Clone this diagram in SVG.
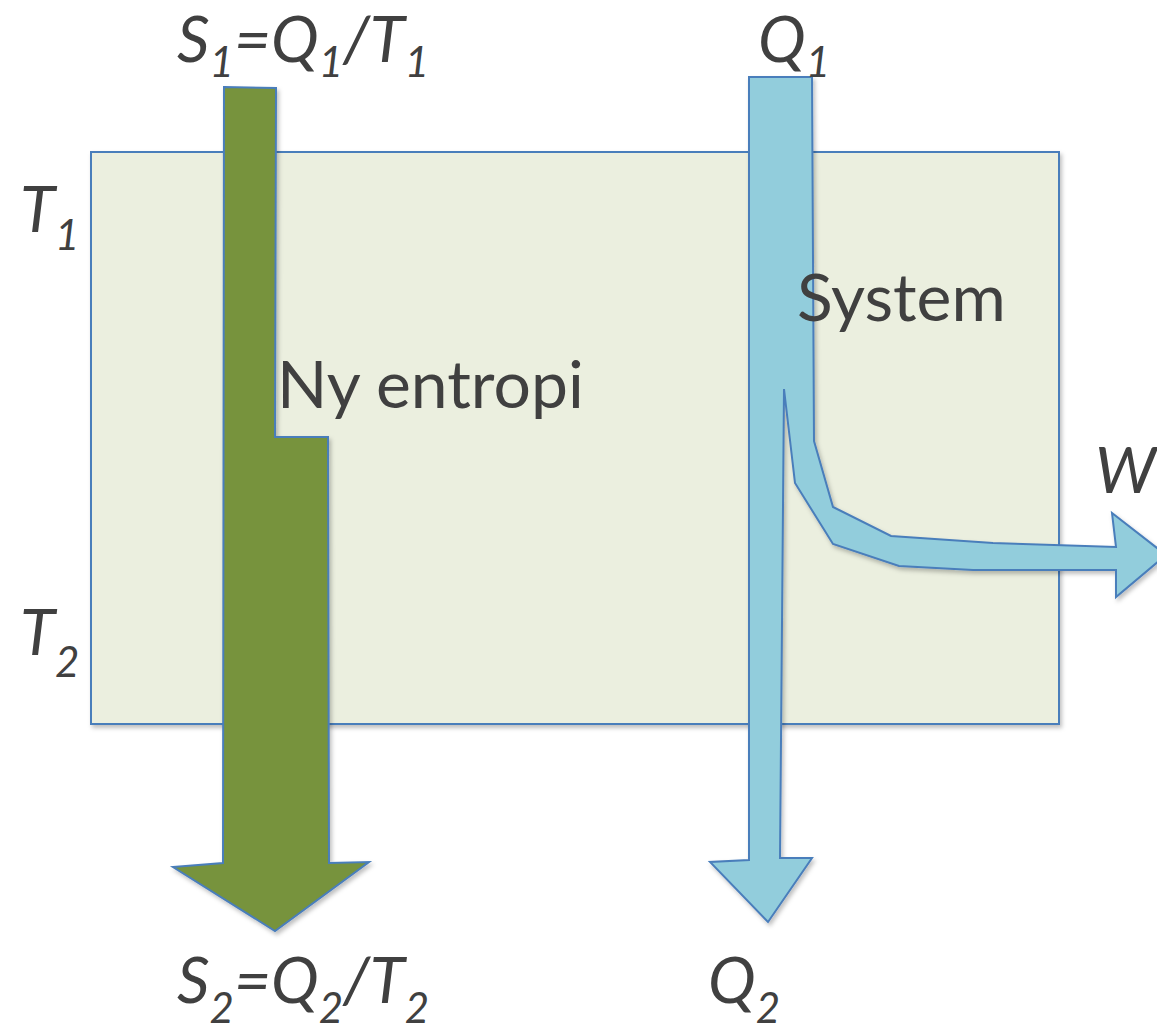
<svg xmlns="http://www.w3.org/2000/svg" width="1157" height="1033" viewBox="0 0 1157 1033">
<defs>
<style>
.lbl{font-family:Lato,"Open Sans","Liberation Sans",sans-serif;fill:#404040;}
.it{font-style:italic;font-size:64px;}
.sub{font-size:42px;}
.plain{font-size:66px;}
.shape{stroke:#4A7EBB;stroke-width:2;stroke-linejoin:miter;}
</style>
<filter id="sh" x="-10%" y="-10%" width="130%" height="130%">
<feDropShadow dx="2" dy="3" stdDeviation="2" flood-color="#000" flood-opacity="0.25"/>
</filter>
</defs>
<rect width="1157" height="1033" fill="#fff"/>
<g id="system">
<rect x="91" y="152" width="968" height="572" fill="#EBEFDF" class="shape" filter="url(#sh)"/>
</g>
<g id="connectors">
<g id="entropy-arrow">
<polygon class="shape" fill="#77933C" filter="url(#sh)" points="224,87 276,88 275,437 328,437 329,863 369,862 275,931 173,867 223,863"/>
</g>
<g id="heat-arrow">
<polygon class="shape" fill="#92CDDC" filter="url(#sh)" points="749,77 812,77 814,441 833,507 891,536 993,543 1116,547 1112,513 1166,555 1116,597 1116,570 973,570 899,566 833,544 795,483 784,389 780,858 812,858 768,922 710,862 749,860"/>
</g>
</g>
<g id="system-label">
<text class="lbl plain" x="797" y="321">System</text>
</g>
<g id="ny-entropi">
<text class="lbl plain" x="277" y="408">Ny entropi</text>
</g>
<g id="label-s1">
<text class="lbl it" x="177" y="62">S<tspan class="sub" dy="15">1</tspan><tspan dy="-15">=Q</tspan><tspan class="sub" dy="15">1</tspan><tspan dy="-15">/T</tspan><tspan class="sub" dy="15">1</tspan></text>
</g>
<g id="label-q1">
<text class="lbl it" x="758" y="62">Q<tspan class="sub" dy="15">1</tspan></text>
</g>
<g id="label-t1">
<text class="lbl it" x="20" y="232">T<tspan class="sub" dy="18">1</tspan></text>
</g>
<g id="label-t2">
<text class="lbl it" x="20" y="655">T<tspan class="sub" dy="22">2</tspan></text>
</g>
<g id="label-s2">
<text class="lbl it" x="177" y="1003">S<tspan class="sub" dy="20">2</tspan><tspan dy="-20">=Q</tspan><tspan class="sub" dy="20">2</tspan><tspan dy="-20">/T</tspan><tspan class="sub" dy="20">2</tspan></text>
</g>
<g id="label-q2">
<text class="lbl it" x="708" y="1003">Q<tspan class="sub" dy="20">2</tspan></text>
</g>
<g id="label-w">
<text class="lbl it" x="1095" y="493">W</text>
</g>
</svg>
